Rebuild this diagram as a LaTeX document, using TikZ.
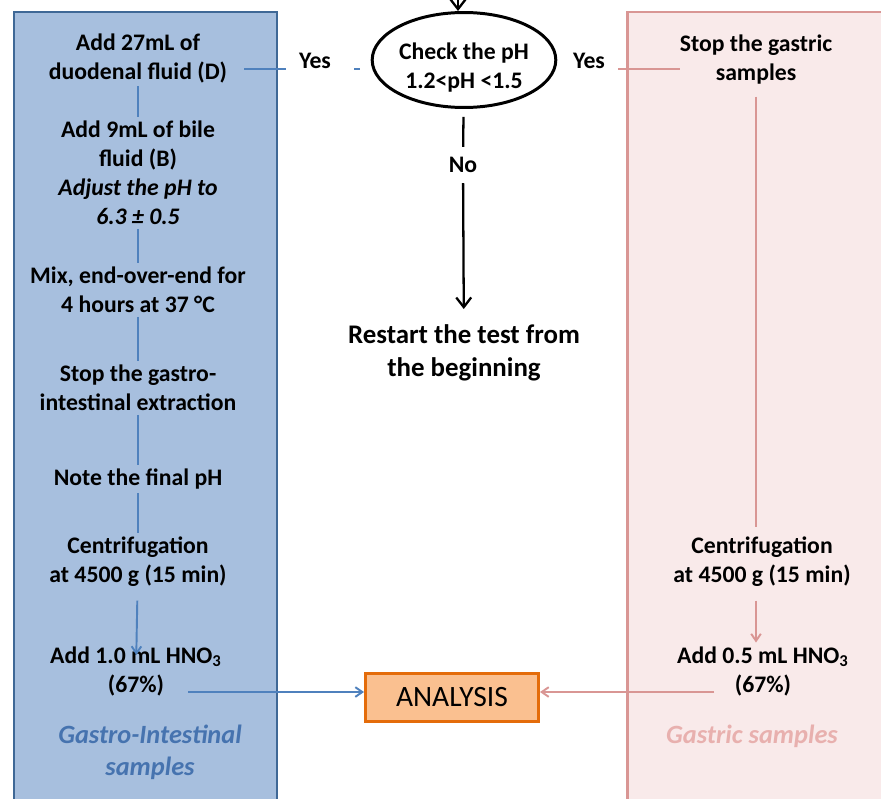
\documentclass[tikz,border=0pt]{standalone}
\usepackage{fontspec}
\setmainfont{Carlito}
\usetikzlibrary{shapes.geometric, arrows.meta, positioning, calc}
\definecolor{giFill}{RGB}{167,191,222}
\definecolor{giDraw}{RGB}{63,104,150}
\definecolor{giLine}{RGB}{79,129,189}
\definecolor{giText}{RGB}{70,115,175}
\definecolor{gFill} {RGB}{249,234,234}
\definecolor{gDraw} {RGB}{217,150,148}
\definecolor{gText} {RGB}{232,176,174}
\definecolor{anFill}{RGB}{250,192,144}
\definecolor{anDraw}{RGB}{228,108,10}
\tikzset{
  txt/.style    = {align=center, font=\fontsize{13.5}{16.5}\selectfont\bfseries, inner sep=2pt},
  big/.style    = {align=center, font=\fontsize{15.3}{18.7}\selectfont\bfseries, inner sep=2pt},
  tag/.style    = {align=center, font=\fontsize{15}{18}\selectfont\bfseries\itshape, inner sep=2pt},
  lbl/.style    = {txt, inner sep=0.26cm},
  check/.style  = {ellipse, draw=black, line width=1.7pt, txt, inner sep=0pt,
                   minimum width=3.45cm, minimum height=1.9cm},
  anbox/.style  = {rectangle, draw=anDraw, fill=anFill, line width=1.7pt,
                   font=\fontsize{16.8}{20}\selectfont, minimum width=3.46cm, minimum height=0.96cm},
  panelL/.style = {draw=giDraw, fill=giFill, line width=1.7pt},
  panelR/.style = {draw=gDraw, fill=gFill, line width=1.7pt},
  bline/.style  = {line width=1.1pt, color=giLine},
  rline/.style  = {line width=1.1pt, color=gDraw},
  kline/.style  = {line width=1.3pt, color=black},
  barb/.style   = {-{Straight Barb[length=4pt, width=5.5pt]}},
  kbarb/.style  = {-{Straight Barb[length=5.5pt, width=8.5pt]}},
}

\begin{document}
\begin{tikzpicture}[x=0.02cm, y=-0.02cm]
\useasboundingbox (0,0) rectangle (881,798);
\clip (0,0) rectangle (881,798);

% ---- Panels -----------------------------------------------------------------
\draw[panelL] (14,12)  rectangle (277,830);
\draw[panelR] (627,12) rectangle (910,830);

% ---- Centre column ----------------------------------------------------------
\node[check] (ck) at (464,60) {\rule{0pt}{18pt}Check the pH\\1.2<pH <1.5};
\node[txt, inner sep=0.2cm] (no) at (463,165) {No};
\node[big] (restart) at (464,353) {Restart the test from\\the beginning};
\node[lbl] (yesL) at (315,61) {Yes};
\node[lbl] (yesR) at (589,61) {Yes};
\node[anbox] (ana) at (452,697) {ANALYSIS};
\coordinate (in) at (458,-10);

% ---- Gastro-intestinal column -----------------------------------------------
\node[txt] (gi1) at (138,58)  {Add 27mL of\\duodenal fluid (D)};
\node[txt] (gi2) at (138,173) {Add 9mL of bile\\fluid (B)\\\textit{Adjust the pH to}\\\textit{6.3 ± 0.5}};
\node[txt] (gi3) at (138,290) {Mix, end-over-end for\\4 hours at 37 °C};
\node[txt] (gi4) at (138,388) {Stop the gastro-\\intestinal extraction};
\node[txt] (gi5) at (138,479) {Note the final pH};
\node[txt] (gi6) at (138,562) {Centrifugation\\at 4500 g (15 min)};
\node[txt] (gi7) at (136,671) {Add 1.0 mL HNO\textsubscript{3}\\(67\%)};
\node[tag, text=giText] (giTag) at (150,752) {Gastro-Intestinal\\samples};
\coordinate (giOut) at (188,692);

% ---- Gastric column ---------------------------------------------------------
\node[txt] (g1) at (756,60)  {Stop the gastric\\samples};
\node[txt] (g2) at (762,562) {Centrifugation\\at 4500 g (15 min)};
\node[txt] (g3) at (763,671) {Add 0.5 mL HNO\textsubscript{3}\\(67\%)};
\node[tag, text=gText] (gTag) at (752,736) {Gastric samples};
\coordinate (gOut) at (714,692);

% ---- Arrows: centre ---------------------------------------------------------
\draw[kline, kbarb] (in) -- (in |- ck.north);
\draw[kline, shorten <=0.16cm] (ck) -- (no);
\draw[kline, kbarb, shorten >=0.24cm] (no) -- (restart);
\draw[bline, shorten >=0.26cm] (yesL.base west) -- (yesL.base west -| gi1.east);
\draw[bline, shorten <=0.2cm, shorten >=0.22cm] (yesL.base east) -- (yesL.base east -| ck.west);
\draw[rline, shorten >=-0.08cm] (yesR.base east) -- (yesR.base east -| g1.west);

% ---- Arrows: gastro-intestinal ----------------------------------------------
\draw[bline] (gi1) -- (gi2);
\draw[bline] (gi2) -- (gi3);
\draw[bline] (gi3) -- (gi4);
\draw[bline] (gi4) -- (gi5);
\draw[bline] (gi5) -- (gi6);
\draw[bline, barb, shorten <=0.2cm, shorten >=-0.25cm] (gi6) -- (gi7);
\draw[bline, barb] (giOut) -- (giOut -| ana.west);

% ---- Arrows: gastric --------------------------------------------------------
\draw[rline, shorten <=0.16cm, shorten >=0.12cm] (g1.south) -- (g1.south |- g2.north);
\draw[rline, barb, shorten <=0.2cm] (g1.south |- g2.south) -- (g1.south |- g3.north);
\draw[rline, barb] (gOut) -- (gOut -| ana.east);

\end{tikzpicture}
\end{document}
